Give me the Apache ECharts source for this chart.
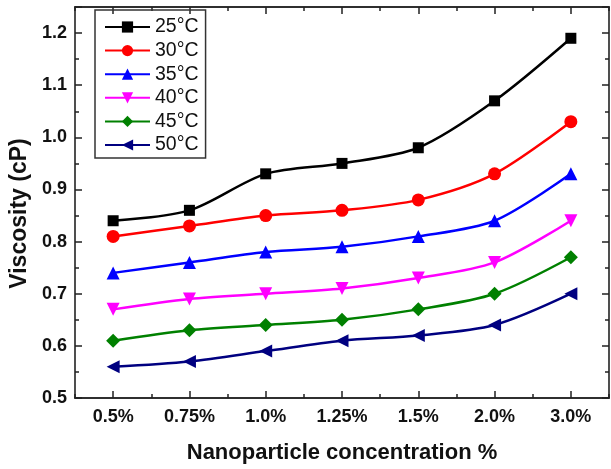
<!DOCTYPE html>
<html><head><meta charset="utf-8">
<script src="https://cdn.jsdelivr.net/npm/echarts@6/dist/echarts.min.js"></script>
<style>html,body{margin:0;padding:0;background:#fff}#c{width:611px;height:469px}</style>
</head><body><div id="c"></div>
<script>
var categories = ['0.5%', '0.75%', '1.0%', '1.25%', '1.5%', '2.0%', '3.0%'];
var seriesNames = ['25°C', '30°C', '35°C', '40°C', '45°C', '50°C'];
var v25 = [0.84, 0.86, 0.93, 0.95, 0.98, 1.07, 1.19];
var v30 = [0.81, 0.83, 0.85, 0.86, 0.88, 0.93, 1.03];
var v35 = [0.74, 0.76, 0.78, 0.79, 0.81, 0.84, 0.93];
var v40 = [0.67, 0.69, 0.70, 0.71, 0.73, 0.76, 0.84];
var v45 = [0.61, 0.63, 0.64, 0.65, 0.67, 0.70, 0.77];
var v50 = [0.56, 0.57, 0.59, 0.61, 0.62, 0.64, 0.70];
var yTicks = [0.5, 0.6, 0.7, 0.8, 0.9, 1.0, 1.1, 1.2];

var values = [v25, v30, v35, v40, v45, v50];
var colors = ['#000000', '#ff0000', '#0000ff', '#ff00ff', '#008000', '#000080'];
var symbols = ['rect', 'circle', 'triangle', 'triangle', 'diamond', 'triangle'];
var rots = [0, 0, 0, 180, 0, 90];
var sizes = [11, 13, 13, 13, 14, 13];

var chart = echarts.init(document.getElementById('c'));
var axisLine = {show: true, lineStyle: {color: '#222', width: 1.6}};
var FF = 'Liberation Sans';
function xAx(pos, major, showLabel, name) {
  return {
    type: 'category', data: categories, position: pos, boundaryGap: true,
    axisLine: axisLine,
    axisTick: {show: true, inside: true, alignWithLabel: major, length: major ? 7 : 4, lineStyle: {color: '#222', width: 1.5}},
    axisLabel: {show: showLabel, color: '#111', fontFamily: FF, fontWeight: 'bold', fontSize: 18, margin: 10},
    name: name || '', nameLocation: 'middle', nameGap: 44,
    nameTextStyle: {color: '#111', fontFamily: FF, fontWeight: 'bold', fontSize: 22},
    splitLine: {show: false}
  };
}
function yAx(pos, showLabel, name) {
  return {
    type: 'value', position: pos, min: 0.5, max: 1.25, interval: 0.1,
    axisLine: axisLine,
    axisTick: {show: true, inside: true, length: 7, lineStyle: {color: '#222', width: 1.5}},
    minorTick: {show: true, splitNumber: 2, length: 4, lineStyle: {color: '#222', width: 1.5}},
    axisLabel: {show: showLabel, color: '#111', fontFamily: FF, fontWeight: 'bold', fontSize: 18, margin: 8,
      formatter: function (v) { return Math.abs(v * 10 - Math.round(v * 10)) < 1e-6 && yTicks.indexOf(Math.round(v * 10) / 10) >= 0 ? v.toFixed(1) : ''; }},
    name: name || '', nameLocation: 'middle', nameGap: 42,
    nameTextStyle: {color: '#111', fontFamily: FF, fontWeight: 'bold', fontSize: 23, padding: [0, 22, 0, 0]},
    splitLine: {show: false}
  };
}
var series = seriesNames.map(function (n, i) {
  return {
    name: n, type: 'line', smooth: 0.3, data: values[i], xAxisIndex: 0, yAxisIndex: 0,
    symbol: symbols[i], symbolRotate: rots[i], symbolSize: sizes[i], showSymbol: true,
    lineStyle: {color: colors[i], width: 2.5}, itemStyle: {color: colors[i]}
  };
});
chart.setOption({
  animation: false,
  backgroundColor: '#fff',
  grid: {left: 75, right: 2, top: 7, bottom: 70, containLabel: false},
  xAxis: [xAx('bottom', true, true, 'Nanoparticle concentration %'), xAx('bottom', false, false), xAx('top', true, false), xAx('top', false, false)],
  yAxis: [yAx('left', true, 'Viscosity (cP)'), yAx('right', false)],
  legend: {
    orient: 'vertical', left: 95, top: 10, data: seriesNames,
    itemWidth: 45, itemHeight: 14, itemGap: 3.6,
    padding: [7, 7, 3, 9], borderColor: '#333', borderWidth: 1.5,
    textStyle: {color: '#111', fontFamily: FF, fontSize: 19.5, lineHeight: 20}
  },
  series: series
});
</script></body></html>
